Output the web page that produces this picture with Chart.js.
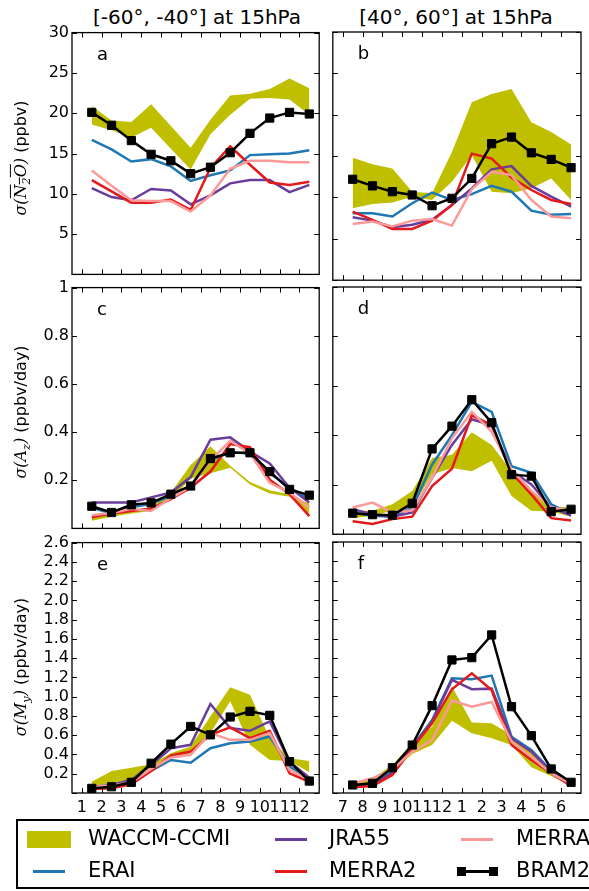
<!DOCTYPE html>
<html>
<head>
<meta charset="utf-8">
<script src="https://cdn.jsdelivr.net/npm/chart.js@4.4.1/dist/chart.umd.min.js"></script>
<style>
  body { margin: 0; background: #fff; }
  #fig { position: relative; width: 589px; height: 891px; overflow: hidden; font-family: "DejaVu Sans", sans-serif; }
  canvas { position: absolute; }
  .title { position: absolute; top: 5px; font-size: 20px; transform: translateX(-50%); white-space: nowrap; }
  .ylab { position: absolute; font-size: 16px; white-space: nowrap; transform: translate(-50%, -50%) rotate(-90deg); }
  .m { font-family: "DejaVu Serif", serif; font-style: italic; }
  .m sub { font-size: 70%; }
  #legend { position: absolute; left: 16px; top: 819px; width: 620px; height: 66px; border: 2px solid #000; }
  .item { position: absolute; font-size: 21px; white-space: nowrap; }
  .sym { position: absolute; }
</style>
</head>
<body>
<div id="fig">
  <div class="title" style="left:197px">[-60°, -40°] at 15hPa</div>
  <div class="title" style="left:456px">[40°, 60°] at 15hPa</div>

  <canvas id="pa" width="326" height="267" style="left:0;top:20px"></canvas>
  <canvas id="pb" width="263" height="267" style="left:326px;top:20px"></canvas>
  <canvas id="pc" width="326" height="266" style="left:0;top:275px"></canvas>
  <canvas id="pd" width="263" height="266" style="left:326px;top:275px"></canvas>
  <canvas id="pe" width="326" height="291" style="left:0;top:530px"></canvas>
  <canvas id="pf" width="263" height="291" style="left:326px;top:530px"></canvas>

  <div class="ylab" style="left:22px;top:158px"><span class="m">σ(<span style="text-decoration:overline">N<sub>2</sub>O</span>)</span> (ppbv)</div>
  <div class="ylab" style="left:22px;top:412px"><span class="m">σ(A<sub>z</sub>)</span> (ppbv/day)</div>
  <div class="ylab" style="left:22px;top:667px"><span class="m">σ(M<sub>y</sub>)</span> (ppbv/day)</div>

  <div id="legend"></div>
</div>

<script>
// tick labels for the two columns
const monthsSouth = ['1', '2', '3', '4', '5', '6', '7', '8', '9', '10', '11', '12'];
const monthsNorth = ['7', '8', '9', '10', '11', '12', '1', '2', '3', '4', '5', '6'];

// panel a - sigma(N2O), [-60,-40]
const aWaccmHi = [20.9, 19.1, 18.9, 21.1, 18.4, 15.7, 19.2, 22.2, 22.4, 23.0, 24.3, 23.1];
const aWaccmLo = [18.6, 17.9, 17.0, 18.2, 15.6, 13.0, 17.4, 19.8, 21.8, 21.9, 21.7, 19.8];
const aErai = [16.7, 15.5, 14.0, 14.3, 13.4, 11.6, 12.3, 12.9, 14.8, 14.9, 15.0, 15.4];
const aJra55 = [10.7, 9.6, 9.2, 10.6, 10.4, 8.7, 9.8, 11.3, 11.7, 11.7, 10.2, 11.1];
const aMerra2 = [11.7, 10.3, 8.9, 8.9, 9.3, 8.0, 13.2, 15.9, 13.6, 11.4, 11.1, 11.5];
const aMerra = [12.9, 11.0, 9.2, 9.1, 9.1, 7.8, 9.8, 13.1, 14.1, 14.1, 13.9, 13.9];
const aBram2 = [20.1, 18.5, 16.6, 14.9, 14.1, 12.5, 13.3, 15.1, 17.5, 19.4, 20.1, 19.9];

// panel b - sigma(N2O), [40,60]
const bWaccmHi = [14.8, 14.0, 13.5, 10.7, 10.5, 15.5, 21.5, 22.5, 23.1, 19.1, 17.9, 16.4];
const bWaccmLo = [8.7, 9.2, 9.4, 10.1, 9.7, 11.9, 15.1, 10.7, 10.5, 11.1, 12.3, 9.7];
const bErai = [8.1, 8.1, 7.7, 9.3, 10.6, 9.7, 10.4, 11.4, 10.7, 8.4, 7.9, 8.0];
const bJra55 = [7.6, 7.2, 6.4, 6.7, 7.3, 9.1, 11.1, 13.4, 13.8, 11.4, 10.1, 8.9];
const bMerra2 = [8.3, 7.3, 6.2, 6.2, 7.2, 9.1, 15.3, 14.7, 12.4, 10.9, 9.7, 9.2];
const bMerra = [6.8, 7.1, 6.5, 7.2, 7.4, 6.6, 11.0, 13.1, 12.7, 9.7, 7.7, 7.5];
const bBram2 = [12.2, 11.4, 10.7, 10.3, 9.0, 9.9, 12.3, 16.5, 17.3, 15.4, 14.6, 13.6];

// panel c - sigma(Az), [-60,-40]
const cWaccmHi = [0.059, 0.062, 0.072, 0.088, 0.149, 0.263, 0.341, 0.26, 0.193, 0.158, 0.142, 0.102];
const cWaccmLo = [0.032, 0.048, 0.062, 0.072, 0.122, 0.206, 0.229, 0.252, 0.182, 0.145, 0.131, 0.059];
const cErai = [0.086, 0.062, 0.088, 0.102, 0.135, 0.176, 0.283, 0.317, 0.31, 0.229, 0.169, 0.122];
const cJra55 = [0.108, 0.108, 0.108, 0.129, 0.149, 0.213, 0.368, 0.378, 0.319, 0.27, 0.169, 0.108];
const cMerra2 = [0.046, 0.062, 0.072, 0.082, 0.122, 0.169, 0.236, 0.35, 0.337, 0.202, 0.142, 0.051];
const cMerra = [0.055, 0.064, 0.082, 0.072, 0.126, 0.173, 0.283, 0.364, 0.31, 0.189, 0.149, 0.086];
const cBram2 = [0.092, 0.066, 0.098, 0.106, 0.142, 0.176, 0.29, 0.314, 0.314, 0.236, 0.162, 0.138];

// panel d - sigma(Az), [40,60]
const dWaccmHi = [0.095, 0.095, 0.121, 0.175, 0.308, 0.321, 0.412, 0.361, 0.255, 0.175, 0.108, 0.111];
const dWaccmLo = [0.065, 0.075, 0.095, 0.108, 0.241, 0.268, 0.255, 0.297, 0.155, 0.095, 0.092, 0.071];
const dErai = [0.088, 0.075, 0.071, 0.108, 0.281, 0.401, 0.535, 0.495, 0.275, 0.248, 0.121, 0.081];
const dJra55 = [0.101, 0.081, 0.071, 0.088, 0.228, 0.361, 0.465, 0.441, 0.257, 0.201, 0.108, 0.075];
const dMerra2 = [0.052, 0.041, 0.061, 0.071, 0.195, 0.265, 0.481, 0.441, 0.248, 0.161, 0.065, 0.055];
const dMerra = [0.108, 0.128, 0.088, 0.097, 0.228, 0.388, 0.495, 0.415, 0.261, 0.175, 0.108, 0.095];
const dBram2 = [0.085, 0.079, 0.077, 0.125, 0.345, 0.437, 0.544, 0.451, 0.241, 0.235, 0.091, 0.101];

// panel e - sigma(My), [-60,-40]
const eWaccmHi = [0.117, 0.229, 0.263, 0.298, 0.413, 0.483, 0.796, 1.098, 1.021, 0.569, 0.361, 0.333];
const eWaccmLo = [0.076, 0.1, 0.135, 0.239, 0.361, 0.413, 0.622, 0.952, 0.5, 0.343, 0.333, 0.215];
const eErai = [0.048, 0.055, 0.1, 0.229, 0.343, 0.315, 0.465, 0.517, 0.535, 0.587, 0.274, 0.152];
const eJra55 = [0.065, 0.083, 0.135, 0.291, 0.465, 0.5, 0.924, 0.674, 0.646, 0.743, 0.326, 0.159];
const eMerra2 = [0.041, 0.048, 0.089, 0.229, 0.389, 0.43, 0.604, 0.681, 0.569, 0.646, 0.204, 0.117];
const eMerra = [0.065, 0.076, 0.111, 0.25, 0.368, 0.396, 0.622, 0.552, 0.552, 0.622, 0.239, 0.135];
const eBram2 = [0.048, 0.065, 0.111, 0.309, 0.507, 0.691, 0.604, 0.789, 0.848, 0.806, 0.326, 0.124];

// panel f - sigma(My), [40,60]
const fWaccmHi = [0.093, 0.152, 0.29, 0.515, 0.687, 1.102, 0.729, 0.722, 0.601, 0.428, 0.231, 0.1];
const fWaccmLo = [0.065, 0.093, 0.211, 0.404, 0.497, 0.749, 0.619, 0.567, 0.497, 0.266, 0.176, 0.073];
const fErai = [0.073, 0.093, 0.221, 0.48, 0.756, 1.188, 1.178, 1.216, 0.583, 0.446, 0.231, 0.093];
const fJra55 = [0.065, 0.083, 0.211, 0.473, 0.739, 1.171, 1.075, 1.081, 0.567, 0.428, 0.221, 0.083];
const fMerra2 = [0.059, 0.073, 0.187, 0.463, 0.722, 1.075, 1.24, 1.067, 0.497, 0.342, 0.204, 0.073];
const fMerra = [0.1, 0.152, 0.245, 0.428, 0.549, 0.957, 0.894, 0.943, 0.532, 0.376, 0.204, 0.093];
const fBram2 = [0.083, 0.1, 0.262, 0.497, 0.905, 1.378, 1.402, 1.637, 0.894, 0.594, 0.249, 0.111];

const colors = {
  waccm: '#bfbf00',
  erai: '#1f78b4',
  jra55: '#6a3d9a',
  merra2: '#e31a1c',
  merra: '#fb9a99',
  bram2: '#000000'
};

Chart.defaults.font.family = 'DejaVu Sans';
Chart.defaults.font.size = 16;
Chart.defaults.color = '#000';

// frame, inward tick marks and panel letter
const framePlugin = {
  id: 'frame',
  afterDraw(chart, args, opts) {
    const { ctx, chartArea: a, scales } = chart;
    ctx.save();
    ctx.strokeStyle = '#000';
    ctx.lineWidth = 1;
    ctx.beginPath();
    scales.x.ticks.forEach(t => {
      const px = Math.round(scales.x.getPixelForValue(t.value)) + 0.5;
      ctx.moveTo(px, a.top); ctx.lineTo(px, a.top + 5);
      ctx.moveTo(px, a.bottom); ctx.lineTo(px, a.bottom - 5);
    });
    scales.y.ticks.forEach(t => {
      const py = Math.round(scales.y.getPixelForValue(t.value)) + 0.5;
      ctx.moveTo(a.left, py); ctx.lineTo(a.left + 5, py);
      ctx.moveTo(a.right, py); ctx.lineTo(a.right - 5, py);
    });
    ctx.stroke();
    ctx.lineWidth = 1.3;
    ctx.strokeRect(a.left, a.top, a.right - a.left, a.bottom - a.top);
    ctx.fillStyle = '#000';
    ctx.font = '18px DejaVu Sans';
    ctx.textBaseline = 'alphabetic';
    ctx.fillText(opts.letter, a.left + 25, a.top + 27);
    ctx.restore();
  }
};

function pts(arr) {
  return arr.map((v, i) => ({ x: i + 1.5, y: v }));
}

// order: higher numbers are drawn first (underneath)
function line(label, data, color, order) {
  return {
    label: label, data: pts(data), borderColor: color, borderWidth: 2.5,
    pointRadius: 0, fill: false, tension: 0, order: order
  };
}

function makePanel(id, p) {
  const left = p.col === 'left';
  new Chart(document.getElementById(id), {
    type: 'line',
    data: {
      datasets: [
        { label: 'WACCM-CCMI', data: pts(p.hi), borderColor: 'rgba(0,0,0,0)', borderWidth: 0,
          backgroundColor: colors.waccm, pointRadius: 0, fill: '+1', order: 7 },
        { label: 'WACCM-CCMI low', data: pts(p.lo), borderColor: 'rgba(0,0,0,0)', borderWidth: 0,
          pointRadius: 0, fill: false, order: 6 },
        line('ERAI', p.erai, colors.erai, 5),
        line('JRA55', p.jra55, colors.jra55, 4),
        line('MERRA2', p.merra2, colors.merra2, 3),
        line('MERRA', p.merra, colors.merra, 2),
        { label: 'BRAM2', data: pts(p.bram2), borderColor: colors.bram2, borderWidth: 2.5,
          pointStyle: 'rect', pointRadius: 5.8, pointBackgroundColor: '#000',
          pointBorderColor: '#000', pointBorderWidth: 1, fill: false, order: 1 }
      ]
    },
    options: {
      responsive: false,
      animation: false,
      events: [],
      layout: { padding: { top: 12, bottom: p.bottom ? 0 : 4, left: 0, right: left ? 4 : 8 } },
      plugins: { legend: { display: false }, tooltip: { enabled: false }, frame: { letter: p.letter } },
      scales: {
        x: {
          type: 'linear', min: 0.5, max: 13,
          grid: { display: false, drawTicks: false },
          border: { display: false },
          afterBuildTicks: s => { s.ticks = p.months.map((m, i) => ({ value: i + 1 })); },
          afterFit: s => { s.height = p.bottom ? 28 : 0; },
          ticks: {
            display: !!p.bottom, padding: 5, maxRotation: 0, autoSkip: false,
            callback: (v) => p.months[v - 1]
          }
        },
        y: {
          min: 0, max: p.ymax,
          grid: { display: false, drawTicks: false },
          border: { display: false },
          afterFit: s => { s.width = left ? 72 : 4; },
          ticks: {
            display: left, stepSize: p.ystep, padding: 3, autoSkip: false,
            callback: p.yfmt
          }
        }
      }
    },
    plugins: [framePlugin]
  });
}

const fmtA = v => (v === 0 ? '' : String(Math.round(v)));
const fmtC = v => (v === 0 ? '' : (Math.abs(v - 1) < 1e-9 ? '1' : v.toFixed(1)));
const fmtE = v => (v === 0 ? '' : v.toFixed(1));

makePanel('pa', { col: 'left', letter: 'a', months: monthsSouth, ymax: 30, ystep: 5, yfmt: fmtA,
  hi: aWaccmHi, lo: aWaccmLo, erai: aErai, jra55: aJra55, merra2: aMerra2, merra: aMerra, bram2: aBram2 });
makePanel('pb', { col: 'right', letter: 'b', months: monthsNorth, ymax: 30, ystep: 5, yfmt: fmtA,
  hi: bWaccmHi, lo: bWaccmLo, erai: bErai, jra55: bJra55, merra2: bMerra2, merra: bMerra, bram2: bBram2 });
makePanel('pc', { col: 'left', letter: 'c', months: monthsSouth, ymax: 1, ystep: 0.2, yfmt: fmtC,
  hi: cWaccmHi, lo: cWaccmLo, erai: cErai, jra55: cJra55, merra2: cMerra2, merra: cMerra, bram2: cBram2 });
makePanel('pd', { col: 'right', letter: 'd', months: monthsNorth, ymax: 1, ystep: 0.2, yfmt: fmtC,
  hi: dWaccmHi, lo: dWaccmLo, erai: dErai, jra55: dJra55, merra2: dMerra2, merra: dMerra, bram2: dBram2 });
makePanel('pe', { col: 'left', letter: 'e', months: monthsSouth, ymax: 2.6, ystep: 0.2, yfmt: fmtE, bottom: true,
  hi: eWaccmHi, lo: eWaccmLo, erai: eErai, jra55: eJra55, merra2: eMerra2, merra: eMerra, bram2: eBram2 });
makePanel('pf', { col: 'right', letter: 'f', months: monthsNorth, ymax: 2.6, ystep: 0.2, yfmt: fmtE, bottom: true,
  hi: fWaccmHi, lo: fWaccmLo, erai: fErai, jra55: fJra55, merra2: fMerra2, merra: fMerra, bram2: fBram2 });

// legend, two rows by three columns as in the original figure
const legendItems = [
  { label: 'WACCM-CCMI', kind: 'patch', color: colors.waccm, col: 0, row: 0 },
  { label: 'ERAI', kind: 'line', color: colors.erai, col: 0, row: 1 },
  { label: 'JRA55', kind: 'line', color: colors.jra55, col: 1, row: 0 },
  { label: 'MERRA2', kind: 'line', color: colors.merra2, col: 1, row: 1 },
  { label: 'MERRA', kind: 'line', color: colors.merra, col: 2, row: 0 },
  { label: 'BRAM2', kind: 'marker', color: colors.bram2, col: 2, row: 1 }
];
const legendCenters = [31, 273, 459];
const legendTextX = [70, 311, 498];
const legendRowY = [18, 50];
const legendBox = document.getElementById('legend');
legendItems.forEach(it => {
  const cx = legendCenters[it.col];
  const cy = legendRowY[it.row];
  if (it.kind === 'patch') {
    const d = document.createElement('div');
    d.className = 'sym';
    d.style.cssText = `left:${cx - 22}px;top:${cy - 8}px;width:44px;height:17px;background:${it.color}`;
    legendBox.appendChild(d);
  } else {
    const d = document.createElement('div');
    d.className = 'sym';
    d.style.cssText = `left:${cx - 16}px;top:${cy - 1.5}px;width:32px;height:3px;background:${it.color}`;
    legendBox.appendChild(d);
    if (it.kind === 'marker') {
      [cx - 16, cx + 16].forEach(mx => {
        const s = document.createElement('div');
        s.className = 'sym';
        s.style.cssText = `left:${mx - 4.5}px;top:${cy - 4.5}px;width:9px;height:9px;background:#000`;
        legendBox.appendChild(s);
      });
    }
  }
  const t = document.createElement('div');
  t.className = 'item';
  t.style.cssText = `left:${legendTextX[it.col]}px;top:${cy - 13}px`;
  t.textContent = it.label;
  legendBox.appendChild(t);
});
</script>
</body>
</html>
